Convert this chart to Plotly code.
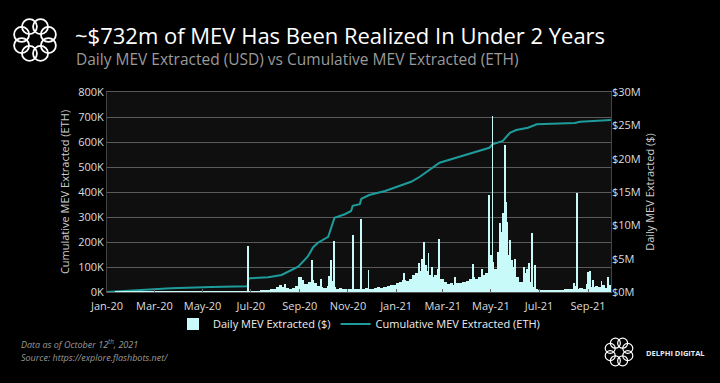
import math
import pandas as pd
import plotly.graph_objects as go

# ---------------- DATA ----------------
# Cumulative MEV extracted (thousand ETH), read at the line's vertices
cum_dates = ["2020-01-01", "2020-02-17", "2020-03-22", "2020-05-12", "2020-06-27", "2020-06-28",
             "2020-06-30", "2020-07-23", "2020-08-09", "2020-08-30", "2020-09-11", "2020-09-18",
             "2020-09-24", "2020-10-07", "2020-10-11", "2020-10-15", "2020-10-28", "2020-11-05",
             "2020-11-07", "2020-11-16", "2020-11-18", "2020-11-28", "2020-12-18", "2021-01-20",
             "2021-01-31", "2021-02-10", "2021-02-25", "2021-03-20", "2021-04-14", "2021-04-29",
             "2021-05-03", "2021-05-16", "2021-05-25", "2021-06-02", "2021-06-17", "2021-06-28",
             "2021-08-15", "2021-08-22", "2021-09-30"]
cum_eth_k = [0, 9, 15, 20, 23, 51, 55, 59, 68, 101, 141, 179, 197, 221, 255, 297, 311, 324, 345,
             351, 373, 388, 404, 441, 461, 484, 517, 539, 561, 577, 591, 604, 637, 648, 657, 671,
             676, 681, 688]

# Daily MEV extracted ($M): background level read every 4 days from 2020-01-01
base_start = "2020-01-01"
base_step_days = 4
daily_base_musd = [
    0.00, 0.00, 0.00, 0.01, 0.01, 0.02, 0.02, 0.03,
    0.04, 0.05, 0.04, 0.06, 0.05, 0.05, 0.06, 0.07, 0.05, 0.06, 0.05, 0.04, 0.05, 0.06, 0.05,
    0.05, 0.06, 0.05, 0.07, 0.06, 0.05, 0.06, 0.07, 0.08, 0.06, 0.05, 0.06, 0.07, 0.06, 0.05,
    0.06, 0.07, 0.08, 0.07, 0.06, 0.07, 0.08,
    0.10,
    0.10, 0.15, 0.10, 0.20, 0.30, 0.25,
    0.40, 0.50, 0.80, 1.00,
    0.70, 0.60, 0.50, 0.60, 0.90,
    2.20, 1.80, 1.20, 1.50,
    1.80, 1.30, 0.90, 0.80,
    0.60, 0.90, 1.60, 0.80,
    0.50, 0.60, 0.50, 0.40,
    0.45, 0.50, 0.40, 0.50,
    0.50, 0.55, 0.45, 0.50,
    0.60, 0.70, 0.60, 0.80,
    0.90, 1.00, 1.10,
    1.30, 1.50, 1.80, 1.60,
    2.00, 2.50, 2.80, 3.20,
    3.50, 3.20, 2.60, 2.30,
    2.60, 3.50, 2.00, 1.50,
    1.20, 1.30, 1.10, 1.40,
    1.30, 1.50, 1.60, 2.00,
    2.20, 1.90, 2.30, 2.60,
    2.80, 3.20, 4.50, 3.50,
    6.00, 9.00, 9.50, 5.50,
    3.20, 3.80, 2.20, 1.50,
    2.80, 3.50, 1.50, 0.80,
    0.40, 0.30, 0.25, 0.20,
    0.20, 0.25, 0.20, 0.30,
    0.30, 0.40, 0.50, 0.40,
    0.90, 0.50, 0.60, 0.50,
    1.20, 0.80, 0.70, 0.90,
    0.70, 1.00, 0.60, 1.10,
]

# Daily MEV extracted ($M): single-day spikes
spike_dates = ["2020-06-28", "2020-08-13", "2020-09-02", "2020-09-16", "2020-09-28", "2020-10-08",
               "2020-10-10", "2020-10-14", "2020-11-07", "2020-11-17", "2020-11-27", "2021-01-11",
               "2021-01-30", "2021-02-03", "2021-02-05", "2021-02-08", "2021-02-11", "2021-02-15",
               "2021-02-24", "2021-03-17", "2021-04-08", "2021-04-20", "2021-04-28", "2021-05-01",
               "2021-05-03", "2021-05-13", "2021-05-16", "2021-05-19", "2021-05-20", "2021-05-22",
               "2021-05-25", "2021-05-28", "2021-06-01", "2021-06-12", "2021-06-18", "2021-06-22",
               "2021-06-26", "2021-08-14", "2021-08-18", "2021-09-01", "2021-09-04", "2021-09-07",
               "2021-09-18", "2021-09-26"]
spike_musd = [6.9, 1.2, 2.3, 4.85, 2.0, 2.4,
              4.75, 7.7, 8.55, 10.95, 3.3, 2.9,
              4.3, 5.0, 7.55, 4.0, 5.9, 3.8,
              8.0, 2.3, 4.15, 3.5, 14.55, 5.5,
              26.4, 10.4, 11.8, 22.05, 13.5, 10.5,
              7.8, 4.8, 5.0, 3.8, 4.3, 8.85,
              4.0, 1.3, 14.8, 3.0, 3.2, 1.8,
              1.6, 2.3]

left_tick_vals = [0, 100, 200, 300, 400, 500, 600, 700, 800]
left_tick_text = ["0K", "100K", "200K", "300K", "400K", "500K", "600K", "700K", "800K"]
right_tick_vals = [0, 5, 10, 15, 20, 25, 30]
right_tick_text = ["$0M", "$5M", "$10M", "$15M", "$20M", "$25M", "$30M"]
x_tick_vals = ["2020-01-01", "2020-03-01", "2020-05-01", "2020-07-01", "2020-09-01", "2020-11-01",
               "2021-01-01", "2021-03-01", "2021-05-01", "2021-07-01", "2021-09-01"]

# ---------------- FIGURE ----------------
FONT = "Open Sans"
BAR_COLOR = "#c8fafa"
LINE_COLOR = "#1e9c9c"
DAY_MS = 86400000

base_dates = pd.date_range(base_start, periods=len(daily_base_musd), freq=f"{base_step_days}D")

fig = go.Figure()
fig.add_trace(go.Bar(
    x=base_dates, y=daily_base_musd, yaxis="y2", name="Daily MEV Extracted ($)",
    marker=dict(color=BAR_COLOR, line=dict(width=0)), width=base_step_days * DAY_MS,
    legendgroup="daily", hoverinfo="skip"))
fig.add_trace(go.Bar(
    x=pd.to_datetime(spike_dates), y=spike_musd, yaxis="y2", name="Daily MEV Extracted ($)",
    marker=dict(color=BAR_COLOR, line=dict(width=0)), width=1.2 * DAY_MS,
    legendgroup="daily", showlegend=False, hoverinfo="skip"))
fig.add_trace(go.Scatter(
    x=pd.to_datetime(cum_dates), y=cum_eth_k, yaxis="y", mode="lines",
    name="Cumulative MEV Extracted (ETH)", line=dict(color=LINE_COLOR, width=2)))

L, R, T, B = 107, 109, 92, 91
W, H = 720 - L - R, 383 - T - B


def px2paper(px, py):
    return (px - L) / W, (383 - B - py) / H


shapes = []


def ring_logo(cx, cy, ring_r, loop_r, n=8, width=1.6):
    for k in range(n):
        a = 2 * math.pi * k / n + math.pi / 8
        ux, uy = cx + ring_r * math.cos(a), cy + ring_r * math.sin(a)
        x0, y0 = px2paper(ux - loop_r, uy + loop_r)
        x1, y1 = px2paper(ux + loop_r, uy - loop_r)
        shapes.append(dict(type="circle", xref="paper", yref="paper", x0=x0, y0=y0, x1=x1, y1=y1,
                           line=dict(color="white", width=width)))


ring_logo(35, 40, 14.5, 7.5, width=1.8)
ring_logo(619, 352, 9.5, 5, width=1.2)

annotations = []


def text_at(px, py, text, size, color, xanchor="left", yanchor="middle", family=FONT):
    x, y = px2paper(px, py)
    annotations.append(dict(x=x, y=y, xref="paper", yref="paper", text=text, showarrow=False,
                            xanchor=xanchor, yanchor=yanchor,
                            font=dict(size=size, color=color, family=family)))


text_at(73, 35, "~$732m of MEV Has Been Realized In Under 2 Years", 22, "#ffffff")
text_at(74, 59, "Daily MEV Extracted (USD) vs Cumulative MEV Extracted (ETH)", 15.5, "#9a9a9a")
text_at(19, 344, "<i>Data as of October 12<sup>th</sup>, 2021</i>", 9, "#9a9a9a")
text_at(19, 357, "<i>Source: https://explore.flashbots.net/</i>", 9, "#9a9a9a")
text_at(644, 353, "<b>DELPHI DIGITAL</b>", 7.5, "#e8e8e8")

axis_common = dict(tickfont=dict(size=11, color="#dddddd", family=FONT), zeroline=False)

fig.update_layout(
    width=720, height=383,
    margin=dict(l=L, r=R, t=T, b=B, pad=0),
    paper_bgcolor="#000000", plot_bgcolor="#0f0f0f",
    font=dict(family=FONT, color="#dddddd"),
    barmode="overlay", bargap=0,
    showlegend=True,
    legend=dict(orientation="h", x=0.5, xanchor="center", y=-0.16, yanchor="middle",
                font=dict(size=11, color="#eeeeee", family=FONT), bgcolor="rgba(0,0,0,0)",
                itemwidth=30, tracegroupgap=0),
    xaxis=dict(type="date", range=["2020-01-01", "2021-09-30"], tickvals=x_tick_vals,
               tickformat="%b-%y", showgrid=False, ticks="inside", ticklen=3, tickcolor="#666666",
               ticklabelstandoff=4,
               showline=True, linecolor="#555555", linewidth=1, mirror=True, **axis_common),
    yaxis=dict(range=[0, 800], tickvals=left_tick_vals, ticktext=left_tick_text,
               showgrid=True, gridcolor="#5a5a5a", gridwidth=1,
               showline=True, linecolor="#444444", linewidth=1, mirror=True,
               title=dict(text="Cumulative MEV Extracted (ETH)", standoff=6,
                          font=dict(size=11, color="#cccccc", family=FONT)),
               **axis_common),
    yaxis2=dict(range=[0, 30], tickvals=right_tick_vals, ticktext=right_tick_text,
                overlaying="y", side="right", showgrid=False,
                title=dict(text="Daily MEV Extracted ($)", standoff=6,
                           font=dict(size=11, color="#cccccc", family=FONT)),
                **axis_common),
    shapes=shapes, annotations=annotations,
)

fig.write_html("out.html", config={"displayModeBar": False},
               post_script="document.body.style.margin='0';"
                           "document.body.style.background='#000';")
